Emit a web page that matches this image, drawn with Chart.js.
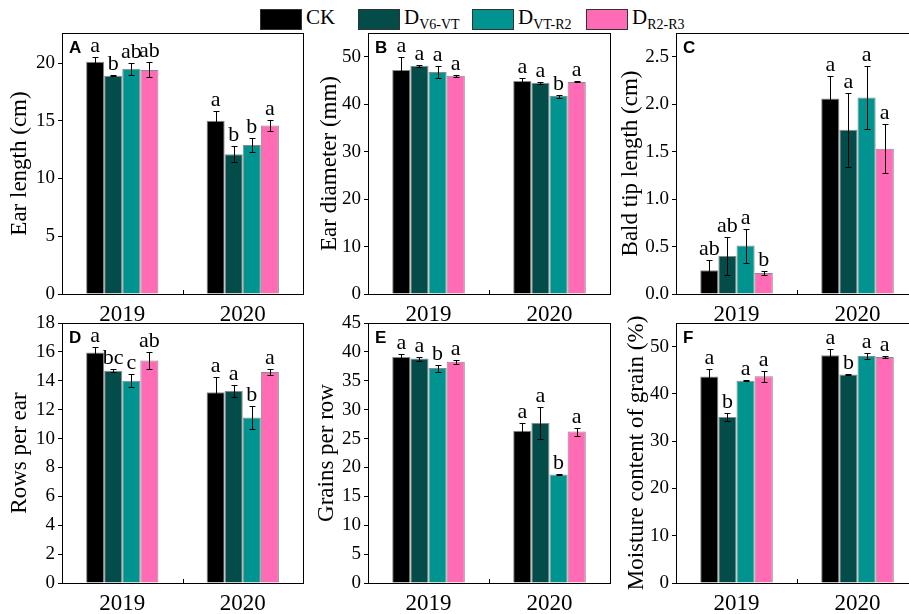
<!DOCTYPE html>
<html>
<head>
<meta charset="utf-8">
<script src="https://cdn.jsdelivr.net/npm/chart.js@4.4.1/dist/chart.umd.min.js"></script>
<style>
    body { margin: 0; width: 909px; height: 614px; overflow: hidden; background: #fff; position: relative; font-family: "Liberation Serif", serif; }
    canvas { position: absolute; }
    .sw { position: absolute; top: 9px; width: 40px; height: 19px; border: 1px solid #333; box-sizing: content-box; }
    .lt { position: absolute; top: 6px; font-size: 21px; line-height: 22px; white-space: nowrap; color: #000; }
    .lt sub { font-size: 14px; vertical-align: baseline; position: relative; top: 5px; }
</style>
</head>
<body>

<div class="sw" style="left:260px;background:#000000"></div>
<div class="lt" style="left:306px">CK</div>
<div class="sw" style="left:358px;background:#034c4a"></div>
<div class="lt" style="left:404px">D<sub>V6-VT</sub></div>
<div class="sw" style="left:472px;background:#00938f"></div>
<div class="lt" style="left:518px">D<sub>VT-R2</sub></div>
<div class="sw" style="left:586px;background:#ff6bb5"></div>
<div class="lt" style="left:632px">D<sub>R2-R3</sub></div>

<canvas id="cA"></canvas>
<canvas id="cB"></canvas>
<canvas id="cC"></canvas>
<canvas id="cD"></canvas>
<canvas id="cE"></canvas>
<canvas id="cF"></canvas>

<script>
"use strict";

// Kategorier och behandlingar
const years = ['2019', '2020'];
const treatments = ['CK', 'DV6-VT', 'DVT-R2', 'DR2-R3'];

// Värden per behandling (rad) och år (kolumn): medel, fel, bokstäver
const earLength = [[20.1, 15.0], [18.9, 12.1], [19.5, 12.9], [19.4, 14.6]];
const earLengthErr = [[0.45, 0.85], [0.05, 0.7], [0.5, 0.6], [0.65, 0.45]];
const earLengthSig = [['a', 'a'], ['b', 'b'], ['ab', 'b'], ['ab', 'a']];

const earDiameter = [[47.2, 44.9], [48.1, 44.5], [46.8, 41.7], [46.0, 44.7]];
const earDiameterErr = [[2.7, 0.6], [0.2, 0.2], [1.3, 0.3], [0.2, 0.1]];
const earDiameterSig = [['a', 'a'], ['a', 'a'], ['a', 'b'], ['a', 'a']];

const baldTip = [[0.25, 2.06], [0.40, 1.73], [0.51, 2.07], [0.22, 1.53]];
const baldTipErr = [[0.11, 0.24], [0.2, 0.39], [0.18, 0.33], [0.02, 0.26]];
const baldTipSig = [['ab', 'a'], ['ab', 'a'], ['a', 'a'], ['b', 'a']];

const rowsPerEar = [[15.95, 13.2], [14.7, 13.3], [14.0, 11.45], [15.4, 14.6]];
const rowsPerEarErr = [[0.4, 1.05], [0.1, 0.4], [0.45, 0.8], [0.6, 0.2]];
const rowsPerEarSig = [['a', 'a'], ['bc', 'a'], ['c', 'b'], ['ab', 'a']];

const grainsPerRow = [[39.1, 26.35], [38.85, 27.7], [37.2, 18.8], [38.3, 26.2]];
const grainsPerRowErr = [[0.5, 1.3], [0.35, 2.8], [0.6, 0.15], [0.35, 0.7]];
const grainsPerRowSig = [['a', 'a'], ['a', 'a'], ['b', 'b'], ['a', 'a']];

const moisture = [[43.7, 48.2], [35.1, 44.1], [42.8, 48.0], [43.75, 47.8]];
const moistureErr = [[1.5, 1.3], [0.85, 0.1], [0.15, 0.65], [1.15, 0.3]];
const moistureSig = [['a', 'a'], ['b', 'b'], ['a', 'a'], ['a', 'a']];

const colors = ['#000000', '#034c4a', '#00938f', '#ff6bb5'];
const serif = '"Liberation Serif", "Times New Roman", serif';

// Ritar felstaplar, bokstäver, ram och panelbokstav
const extrasPlugin = {
    id: 'extras',
    afterDatasetsDraw(chart, args, opts) {
        const ctx = chart.ctx;
        const y = chart.scales.y;
        const x = chart.scales.x;
        const a = chart.chartArea;
        ctx.save();
        ctx.strokeStyle = '#000';
        ctx.fillStyle = '#000';
        ctx.lineWidth = 1;
        chart.data.datasets.forEach((ds, i) => {
            const meta = chart.getDatasetMeta(i);
            meta.data.forEach((bar, j) => {
                const v = ds.data[j], e = ds.err[j];
                const top = Math.round(y.getPixelForValue(v + e)) + 0.5;
                const bot = Math.round(y.getPixelForValue(v - e)) + 0.5;
                const cx = Math.round(bar.x) + 0.5;
                ctx.beginPath();
                ctx.moveTo(cx, top); ctx.lineTo(cx, bot);
                ctx.moveTo(cx - 3, top); ctx.lineTo(cx + 3, top);
                ctx.moveTo(cx - 3, bot); ctx.lineTo(cx + 3, bot);
                ctx.stroke();
                ctx.font = '22px ' + serif;
                ctx.textAlign = 'center';
                ctx.textBaseline = 'alphabetic';
                ctx.fillText(ds.sig[j], bar.x, top - 6);
            });
        });
        ctx.strokeRect(Math.round(a.left) + 0.5, Math.round(a.top) + 0.5,
            Math.round(a.right - a.left), Math.round(a.bottom - a.top));
        const mid = Math.round((x.getPixelForValue(0) + x.getPixelForValue(1)) / 2) + 0.5;
        ctx.beginPath();
        ctx.moveTo(mid, a.bottom); ctx.lineTo(mid, a.bottom - 4);
        ctx.stroke();
        ctx.font = 'bold 17px "Liberation Sans", Arial, sans-serif';
        ctx.textAlign = 'left';
        ctx.textBaseline = 'middle';
        ctx.fillText(opts.letter, a.left + 7, a.top + 15);
        ctx.restore();
    }
};

function makePanel(id, p) {
    const cv = document.getElementById(id);
    const width = p.right + 2 - p.left;
    cv.width = width;
    cv.height = p.height;
    cv.style.left = p.left + 'px';
    cv.style.top = p.top + 'px';

    const datasets = treatments.map((t, i) => ({
        label: t,
        data: p.values[i],
        err: p.errs[i],
        sig: p.sigs[i],
        backgroundColor: colors[i],
        borderColor: 'rgba(60,60,60,0.6)',
        borderWidth: 1,
        categoryPercentage: 0.6,
        barPercentage: 1.0
    }));

    new Chart(cv, {
        type: 'bar',
        data: { labels: years, datasets: datasets },
        plugins: [extrasPlugin],
        options: {
            responsive: false,
            animation: false,
            devicePixelRatio: 1,
            layout: { padding: { top: p.padTop, right: 2, left: 0, bottom: 0 } },
            plugins: {
                legend: { display: false },
                tooltip: { enabled: false },
                extras: { letter: p.letter }
            },
            scales: {
                x: {
                    offset: true,
                    grid: { display: false },
                    border: { display: false },
                    ticks: { color: '#000', font: { family: serif, size: 23 }, padding: -1 },
                    afterFit(s) { s.height = p.xh; }
                },
                y: {
                    min: 0,
                    max: p.max,
                    grid: { display: true, drawOnChartArea: false, drawTicks: true, tickLength: 4, color: '#000' },
                    border: { display: false },
                    ticks: {
                        stepSize: p.step,
                        color: '#000',
                        padding: 3,
                        font: { family: serif, size: 19 },
                        callback: v => p.dec ? v.toFixed(p.dec) : v
                    },
                    afterBuildTicks(s) {
                        s.ticks = s.ticks.filter(t => Math.abs(t.value / p.step - Math.round(t.value / p.step)) < 1e-6);
                    },
                    title: {
                        display: true,
                        text: p.title,
                        color: '#000',
                        font: { family: serif, size: 23 },
                        padding: { top: 6, bottom: 0 }
                    },
                    afterFit(s) { s.width = p.yw; }
                }
            }
        }
    });
}

makePanel('cA', { left: 0, yw: 62, right: 303, top: 0, height: 330, padTop: 33, xh: 36,
    max: 22.6, step: 5, title: 'Ear length (cm)', letter: 'A',
    values: earLength, errs: earLengthErr, sigs: earLengthSig });
makePanel('cB', { left: 310, yw: 58, right: 610, top: 0, height: 330, padTop: 33, xh: 36,
    max: 55, step: 10, title: 'Ear diameter (mm)', letter: 'B',
    values: earDiameter, errs: earDiameterErr, sigs: earDiameterSig });
makePanel('cC', { left: 611, yw: 65, right: 918, top: 0, height: 330, padTop: 33, xh: 36,
    max: 2.75, step: 0.5, dec: 1, title: 'Bald tip length (cm)', letter: 'C',
    values: baldTip, errs: baldTipErr, sigs: baldTipSig });
makePanel('cD', { left: 0, yw: 62, right: 303, top: 300, height: 314, padTop: 23, xh: 31,
    max: 18, step: 2, title: 'Rows per ear', letter: 'D',
    values: rowsPerEar, errs: rowsPerEarErr, sigs: rowsPerEarSig });
makePanel('cE', { left: 307, yw: 61, right: 610, top: 300, height: 314, padTop: 23, xh: 31,
    max: 45, step: 5, title: 'Grains per row', letter: 'E',
    values: grainsPerRow, errs: grainsPerRowErr, sigs: grainsPerRowSig });
makePanel('cF', { left: 617, yw: 59, right: 918, top: 300, height: 314, padTop: 23, xh: 31,
    max: 55, step: 10, title: 'Moisture content of grain (%)', letter: 'F',
    values: moisture, errs: moistureErr, sigs: moistureSig });
</script>
</body>
</html>
